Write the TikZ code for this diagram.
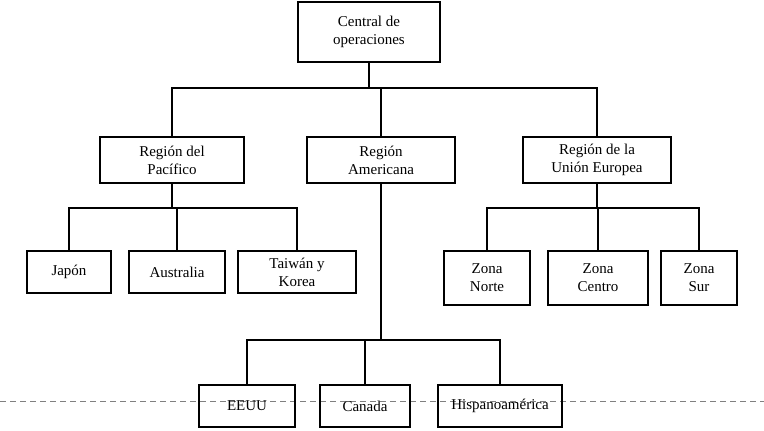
\documentclass[tikz,border=0pt]{standalone}
\usepackage{fontspec}
\setmainfont{Liberation Serif}
\begin{document}
\begin{tikzpicture}[x=0.5pt,y=-0.5pt,
    box/.style={
        draw,
        thick,
        align=center,
        inner sep=0pt,
        font=\fontsize{7.5}{9}\selectfont
    },
    link/.style={thick}
]
\useasboundingbox (0,0) rectangle (764,431);

% --- Page break ---
\draw[gray, densely dashed, thin] (0,401) -- (764,401);

% --- Top ---
\node[box, minimum width=71pt, minimum height=30pt] (central) at (369,32) {Central de\\operaciones};

% --- Regions ---
\node[box, minimum width=72pt, minimum height=23pt] (pac) at (172,160) {Región del\\Pacífico};
\node[box, minimum width=74pt, minimum height=23pt] (ame) at (381,160) {Región\\Americana};
\node[box, minimum width=74pt, minimum height=23pt] (ue) at (597,160) {Región de la\\Unión Europea};

% --- Pacific ---
\node[box, minimum width=42pt, minimum height=21pt] (jap) at (69,272) {Japón};
\node[box, minimum width=48pt, minimum height=21pt] (aus) at (177,272) {Australia};
\node[box, minimum width=59pt, minimum height=21pt] (tai) at (297,272) {Taiwán y\\Korea};

% --- Europe ---
\node[box, minimum width=43pt, minimum height=27pt] (norte) at (487,278) {Zona\\Norte};
\node[box, minimum width=50pt, minimum height=27pt] (centro) at (598,278) {Zona\\Centro};
\node[box, minimum width=38pt, minimum height=27pt] (sur) at (699,278) {Zona\\Sur};

% --- America ---
\node[box, minimum width=48pt, minimum height=21pt] (eeuu) at (247,406) {EEUU};
\node[box, minimum width=45pt, minimum height=21pt] (can) at (365,406) {Canada};
\node[box, minimum width=62pt, minimum height=21pt] (hisp) at (500,406) {Hispanoamérica};

% --- Connectors ---
\coordinate (b0) at (369,88);
\draw[link] (central) -- (b0);
\foreach \n in {pac,ame,ue}
    \draw[link] (b0) -| (\n);

\coordinate (b1) at (172,208);
\draw[link] (pac) -- (b1);
\foreach \n in {jap,aus,tai}
    \draw[link] (b1) -| (\n);

\coordinate (b2) at (597,208);
\draw[link] (ue) -- (b2);
\foreach \n in {norte,centro,sur}
    \draw[link] (b2) -| (\n);

\coordinate (b3) at (381,340);
\draw[link] (ame) -- (b3);
\foreach \n in {eeuu,can,hisp}
    \draw[link] (b3) -| (\n);

\end{tikzpicture}
\end{document}
